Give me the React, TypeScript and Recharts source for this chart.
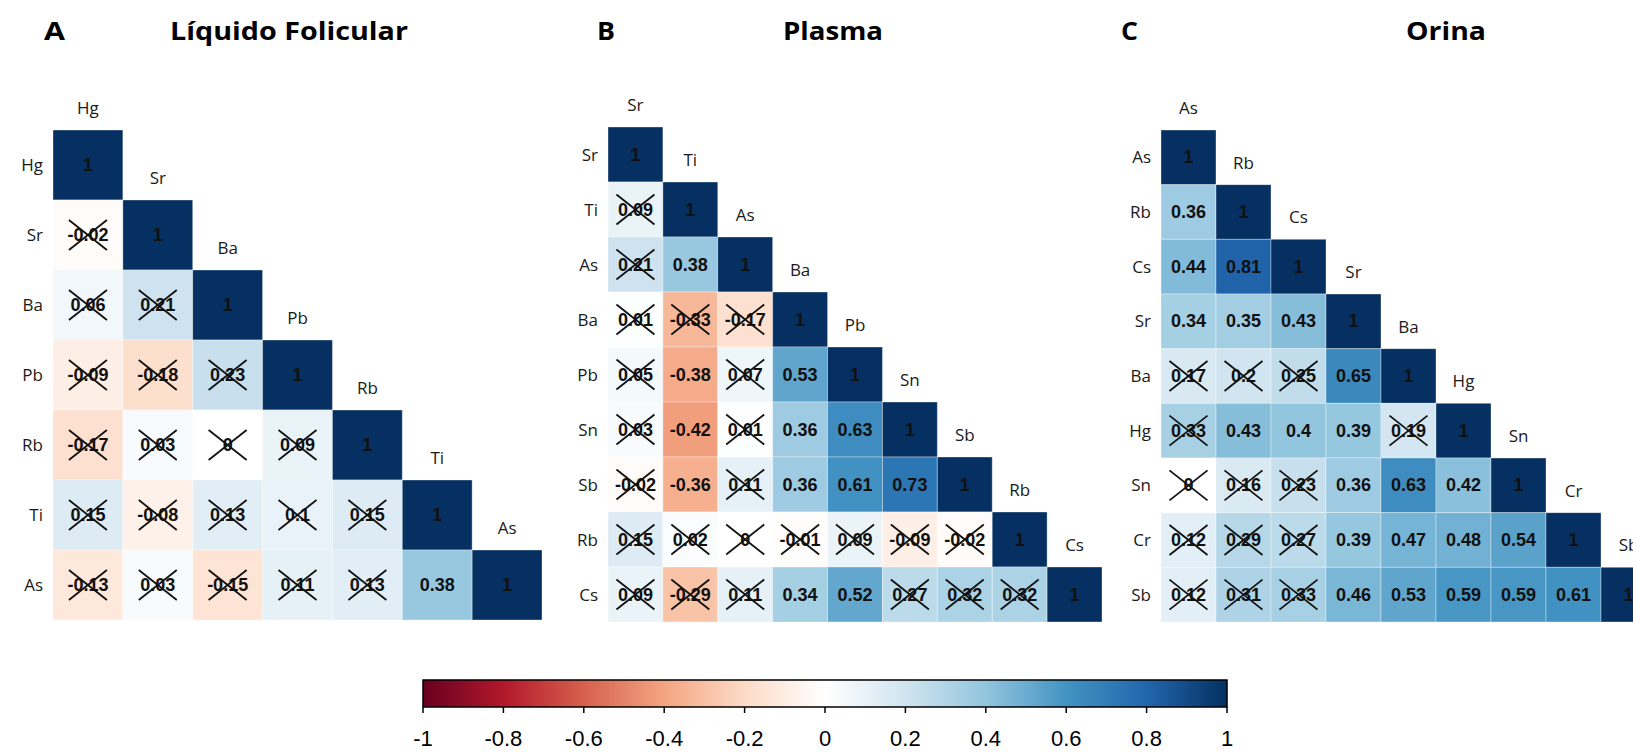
import React from "react";
import { ScatterChart, Scatter, XAxis, YAxis, ReferenceArea } from "recharts";

// corrplot RdBu palette, -1 .. 1 in steps of 0.2
const PALETTE = [
  "#67001F", "#B2182B", "#D6604D", "#F4A582", "#FDDBC7", "#FFFFFF",
  "#D1E5F0", "#92C5DE", "#4393C3", "#2166AC", "#053061",
];

// A: Líquido Folicular (lower triangle, row by row)
const LF_VARS = ["Hg", "Sr", "Ba", "Pb", "Rb", "Ti", "As"];
const LF_R = [
  [1],
  [-0.02, 1],
  [0.06, 0.21, 1],
  [-0.09, -0.18, 0.23, 1],
  [-0.17, 0.03, 0, 0.09, 1],
  [0.15, -0.08, 0.13, 0.1, 0.15, 1],
  [-0.13, 0.03, -0.15, 0.11, 0.13, 0.38, 1],
];
// 1 = not significant (crossed out)
const LF_X = [
  [0],
  [1, 0],
  [1, 1, 0],
  [1, 1, 1, 0],
  [1, 1, 1, 1, 0],
  [1, 1, 1, 1, 1, 0],
  [1, 1, 1, 1, 1, 0, 0],
];

// B: Plasma
const PL_VARS = ["Sr", "Ti", "As", "Ba", "Pb", "Sn", "Sb", "Rb", "Cs"];
const PL_R = [
  [1],
  [0.09, 1],
  [0.21, 0.38, 1],
  [0.01, -0.33, -0.17, 1],
  [0.05, -0.38, 0.07, 0.53, 1],
  [0.03, -0.42, 0.01, 0.36, 0.63, 1],
  [-0.02, -0.36, 0.11, 0.36, 0.61, 0.73, 1],
  [0.15, 0.02, 0, -0.01, 0.09, -0.09, -0.02, 1],
  [0.09, -0.29, 0.11, 0.34, 0.52, 0.27, 0.32, 0.32, 1],
];
const PL_X = [
  [0],
  [1, 0],
  [1, 0, 0],
  [1, 1, 1, 0],
  [1, 0, 1, 0, 0],
  [1, 0, 1, 0, 0, 0],
  [1, 0, 1, 0, 0, 0, 0],
  [1, 1, 1, 1, 1, 1, 1, 0],
  [1, 1, 1, 0, 0, 1, 1, 1, 0],
];

// C: Orina
const OR_VARS = ["As", "Rb", "Cs", "Sr", "Ba", "Hg", "Sn", "Cr", "Sb"];
const OR_R = [
  [1],
  [0.36, 1],
  [0.44, 0.81, 1],
  [0.34, 0.35, 0.43, 1],
  [0.17, 0.2, 0.25, 0.65, 1],
  [0.33, 0.43, 0.4, 0.39, 0.19, 1],
  [0, 0.16, 0.23, 0.36, 0.63, 0.42, 1],
  [0.12, 0.29, 0.27, 0.39, 0.47, 0.48, 0.54, 1],
  [0.12, 0.31, 0.33, 0.46, 0.53, 0.59, 0.59, 0.61, 1],
];
const OR_X = [
  [0],
  [0, 0],
  [0, 0, 0],
  [0, 0, 0, 0],
  [1, 1, 1, 0, 0],
  [1, 0, 0, 0, 1, 0],
  [1, 1, 1, 0, 0, 0, 0],
  [1, 1, 1, 0, 0, 0, 0, 0],
  [1, 1, 1, 0, 0, 0, 0, 0, 0],
];

const LEGEND_TICKS = [-1, -0.8, -0.6, -0.4, -0.2, 0, 0.2, 0.4, 0.6, 0.8, 1];

const hex = (c: string) => [1, 3, 5].map((k) => parseInt(c.slice(k, k + 2), 16));

function colorFor(v: number) {
  const t = ((v + 1) / 2) * (PALETTE.length - 1);
  const i = Math.min(PALETTE.length - 2, Math.max(0, Math.floor(t)));
  const f = t - i;
  const a = hex(PALETTE[i]);
  const b = hex(PALETTE[i + 1]);
  const m = a.map((x, k) => Math.round(x + (b[k] - x) * f));
  return `rgb(${m[0]},${m[1]},${m[2]})`;
}

const LABEL_FONT = "'Open Sans', 'DejaVu Sans', sans-serif";
const NUM_FONT = "'Liberation Sans', Arial, sans-serif";

const CellText = (props: any) => {
  const { cx, cy, payload } = props;
  return (
    <g>
      <text
        x={cx}
        y={cy}
        textAnchor="middle"
        dominantBaseline="central"
        fontFamily={NUM_FONT}
        fontWeight={700}
        fontSize={18}
        fill="#111"
      >
        {payload.label}
      </text>
      {payload.crossed && (
        <g stroke="#111" strokeWidth={1.8}>
          <line x1={cx - 19} y1={cy - 15} x2={cx + 19} y2={cy + 15} />
          <line x1={cx - 19} y1={cy + 15} x2={cx + 19} y2={cy - 15} />
        </g>
      )}
    </g>
  );
};

const HeadText = (props: any) => {
  const { cx, cy, payload } = props;
  return (
    <text x={cx} y={cy - 16} textAnchor="middle" fontFamily={LABEL_FONT} fontSize={17} fill="#1a1a1a">
      {payload.name}
    </text>
  );
};

const NoMark = () => <g />;

interface PanelProps {
  vars: string[];
  r: number[][];
  crossed: number[][];
  left: number;
  yWidth: number;
  margin: { top: number; right: number; bottom: number; left: number };
}

function Panel({ vars, r, crossed, left, yWidth, margin }: PanelProps) {
  const n = vars.length;
  const cells: any[] = [];
  r.forEach((row, i) =>
    row.forEach((v, j) =>
      cells.push({ x: j + 0.5, y: i + 0.5, i, j, v, label: String(v), crossed: crossed[i][j] === 1 })
    )
  );
  const heads = vars.map((name, j) => ({ x: j + 0.5, y: j, name }));
  const ticks = vars.map((_, i) => i + 0.5);

  return (
    <div style={{ position: "absolute", left, top: 0 }}>
      <ScatterChart width={560} height={650} margin={margin}>
        <XAxis type="number" dataKey="x" domain={[0, n]} hide />
        <YAxis
          type="number"
          dataKey="y"
          domain={[0, n]}
          reversed
          ticks={ticks}
          interval={0}
          tickFormatter={(v: number) => vars[Math.floor(v)]}
          axisLine={false}
          tickLine={false}
          tickSize={0}
          tickMargin={10}
          width={yWidth}
          tick={{ fontSize: 17, fontFamily: LABEL_FONT, fill: "#1a1a1a" }}
        />
        {cells.map((c) => (
          <ReferenceArea
            key={`${c.i}-${c.j}`}
            x1={c.j}
            x2={c.j + 1}
            y1={c.i}
            y2={c.i + 1}
            fill={colorFor(c.v)}
            fillOpacity={1}
            stroke="#ffffff"
            strokeOpacity={0.35}
            strokeWidth={1}
          />
        ))}
        <Scatter data={cells} shape={CellText} isAnimationActive={false} />
        <Scatter data={heads} shape={HeadText} isAnimationActive={false} />
      </ScatterChart>
    </div>
  );
}

function ColorLegend() {
  // anchor points at each tick so the axis has something to scale
  const anchors = LEGEND_TICKS.map((t) => ({ x: t, y: 0 }));
  return (
    <div style={{ position: "absolute", left: 0, top: 660 }}>
      <ScatterChart width={1633} height={92} margin={{ top: 20, right: 406, bottom: 0, left: 423 }}>
        <defs>
          <linearGradient id="rdbu" x1="0" y1="0" x2="1" y2="0">
            {PALETTE.map((c, k) => (
              <stop key={c} offset={`${(k / (PALETTE.length - 1)) * 100}%`} stopColor={c} />
            ))}
          </linearGradient>
        </defs>
        <XAxis
          type="number"
          dataKey="x"
          domain={[-1, 1]}
          ticks={LEGEND_TICKS}
          interval={0}
          tickFormatter={(v: number) => String(v)}
          height={45}
          axisLine={false}
          tickLine={{ stroke: "#000", strokeWidth: 1.5 }}
          tickSize={6}
          tickMargin={17}
          tick={{ fontSize: 22, fontFamily: "'Liberation Sans Narrow', 'Liberation Sans', sans-serif", fill: "#000" }}
        />
        <YAxis type="number" dataKey="y" domain={[0, 1]} hide />
        <ReferenceArea
          x1={-1}
          x2={1}
          y1={0}
          y2={1}
          fill="url(#rdbu)"
          fillOpacity={1}
          stroke="#000"
          strokeWidth={1.5}
        />
        <Scatter data={anchors} shape={NoMark} isAnimationActive={false} />
      </ScatterChart>
    </div>
  );
}

const TITLES = [
  { text: "A", x: 44, len: 21 },
  { text: "Líquido Folicular", x: 170, len: 238 },
  { text: "B", x: 597, len: 18 },
  { text: "Plasma", x: 783, len: 100 },
  { text: "C", x: 1121, len: 17 },
  { text: "Orina", x: 1406, len: 80 },
];

export default function App() {
  return (
    <div
      style={{
        position: "absolute",
        left: 0,
        top: 0,
        width: 1633,
        height: 752,
        overflow: "hidden",
        background: "#fff",
      }}
    >
      <Panel vars={LF_VARS} r={LF_R} crossed={LF_X} left={0} yWidth={53}
        margin={{ top: 130, right: 18, bottom: 30, left: 0 }} />
      <Panel vars={PL_VARS} r={PL_R} crossed={PL_X} left={560} yWidth={48}
        margin={{ top: 127, right: 18, bottom: 28, left: 0 }} />
      <Panel vars={OR_VARS} r={OR_R} crossed={OR_X} left={1120} yWidth={41}
        margin={{ top: 130, right: 24, bottom: 28, left: 0 }} />
      <ColorLegend />
      <svg width={1633} height={60} style={{ position: "absolute", left: 0, top: 0 }}>
        {TITLES.map((t) => (
          <text
            key={t.text}
            x={t.x}
            y={40}
            textLength={t.len}
            lengthAdjust="spacingAndGlyphs"
            fontFamily={LABEL_FONT}
            fontWeight={700}
            fontSize={25}
            fill="#000"
          >
            {t.text}
          </text>
        ))}
      </svg>
    </div>
  );
}
